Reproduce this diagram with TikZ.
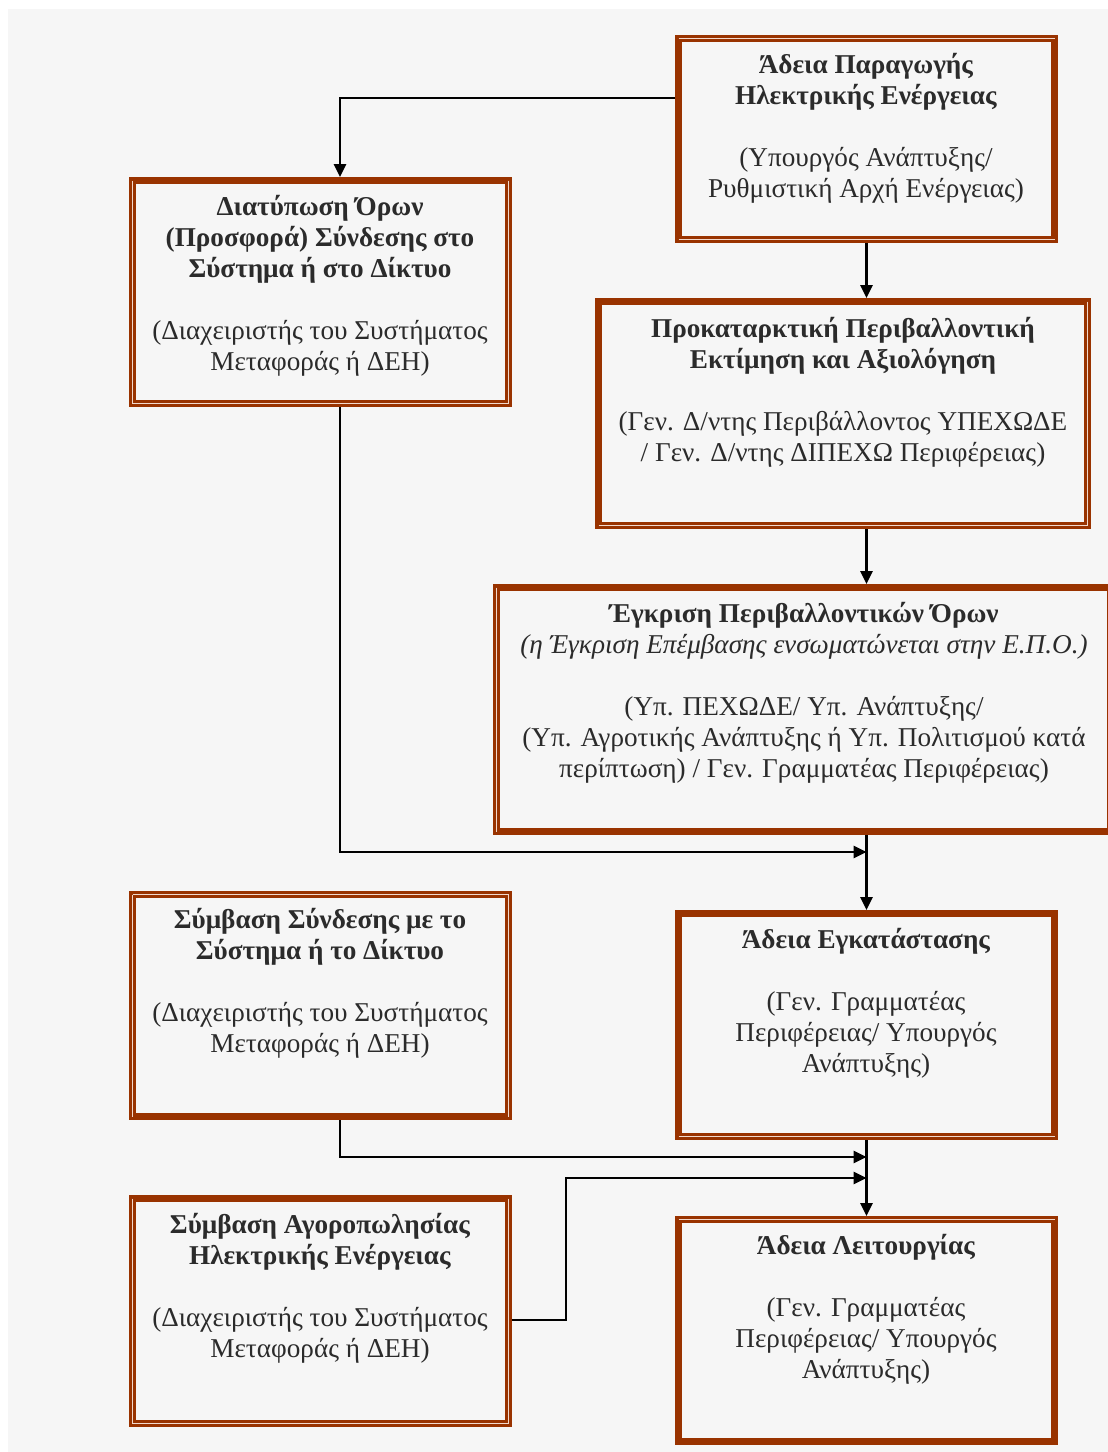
\documentclass[tikz,border=0pt]{standalone}
\usepackage{fontspec}
\setmainfont{Liberation Serif}
\usetikzlibrary{calc,arrows.meta}
\definecolor{frame}{HTML}{993300}
\definecolor{stripe}{HTML}{F2D9CC}
\definecolor{paper}{HTML}{F6F6F6}
\definecolor{ink}{HTML}{2B2B2B}
\tikzset{
  box/.style={rectangle,draw=none,inner sep=0pt,outer sep=0pt},
  txt/.style={anchor=north,align=center,inner sep=0pt,text=ink,
    font=\fontsize{13.6}{15.5}\selectfont},
  stripeline/.style={draw=stripe,line width=0.6pt},
  arr/.style={draw=black,line width=1.4pt,-{Triangle[length=6.5pt,width=6pt]}},
}
% frame of a box: #1 node; #2..#5 = top, right, bottom, left (1 = solid band, 0 = split band)
\newcommand\stepframe[5]{%
  \draw[frame,line width=3.5pt] ($(#1.north west)+(3.5,3.5)$) rectangle ($(#1.south east)+(-3.5,-3.5)$);
  \ifnum#2=0 \draw[stripeline] ($(#1.north west)+(3.5,3.5)$) -- ($(#1.north east)+(-3.5,3.5)$);\fi
  \ifnum#3=0 \draw[stripeline] ($(#1.north east)+(-3.5,3.5)$) -- ($(#1.south east)+(-3.5,-3.5)$);\fi
  \ifnum#4=0 \draw[stripeline] ($(#1.south west)+(3.5,-3.5)$) -- ($(#1.south east)+(-3.5,-3.5)$);\fi
  \ifnum#5=0 \draw[stripeline] ($(#1.north west)+(3.5,3.5)$) -- ($(#1.south west)+(3.5,-3.5)$);\fi
}
\begin{document}
\begin{tikzpicture}[x=0.5pt,y=-0.5pt]
\useasboundingbox (0,0) rectangle (1108,1452);
\fill[white] (0,0) rectangle (1108,1452);
\fill[paper] (8,9) rectangle (1108,1452);

% boxes
\node[box,minimum width=191.5pt,minimum height=104pt]   (B1) at (866.5,139) {};
\node[box,minimum width=191.5pt,minimum height=115pt]   (B2) at (320.5,292) {};
\node[box,minimum width=248pt,minimum height=115.5pt]   (B3) at (843,413.5) {};
\node[box,minimum width=310.5pt,minimum height=125.5pt] (B4) at (803.5,709.5) {};
\node[box,minimum width=191.5pt,minimum height=114.5pt] (B5) at (320.5,1005.5) {};
\node[box,minimum width=191.5pt,minimum height=115pt]   (B6) at (866.5,1025) {};
\node[box,minimum width=191.5pt,minimum height=116pt]   (B7) at (320.5,1311) {};
\node[box,minimum width=191.5pt,minimum height=114.5pt] (B8) at (866.5,1330.5) {};

\stepframe{B1}{0}{1}{0}{1}
\stepframe{B2}{1}{0}{0}{0}
\stepframe{B3}{1}{0}{0}{1}
\stepframe{B4}{1}{1}{1}{0}
\stepframe{B5}{0}{0}{1}{0}
\stepframe{B6}{1}{1}{0}{1}
\stepframe{B7}{1}{0}{0}{0}
\stepframe{B8}{0}{1}{1}{1}

% texts
\node[txt] (T1) at (866,51) {\strut\textbf{Άδεια Παραγωγής}\\\textbf{Ηλεκτρικής Ενέργειας}\\[15.5pt](Υπουργός Ανάπτυξης/\\Ρυθμιστική Αρχή Ενέργειας)};
\node[txt] (T2) at (320,193) {\strut\textbf{Διατύπωση Όρων}\\\textbf{(Προσφορά) Σύνδεσης στο}\\\textbf{Σύστημα ή στο Δίκτυο}\\[15.5pt](Διαχειριστής του Συστήματος\\Μεταφοράς ή ΔΕΗ)};
\node[txt] (T3) at (843,315) {\strut\textbf{Προκαταρκτική Περιβαλλοντική}\\\textbf{Εκτίμηση και Αξιολόγηση}\\[15.5pt](Γεν. Δ/ντης Περιβάλλοντος ΥΠΕΧΩΔΕ\\/ Γεν. Δ/ντης ΔΙΠΕΧΩ Περιφέρειας)};
\node[txt] (T4) at (804,600) {\strut\textbf{Έγκριση Περιβαλλοντικών Όρων}\\\textit{(η Έγκριση Επέμβασης ενσωματώνεται στην Ε.Π.Ο.)}\\[15.5pt](Υπ. ΠΕΧΩΔΕ/ Υπ. Ανάπτυξης/\\(Υπ. Αγροτικής Ανάπτυξης ή Υπ. Πολιτισμού κατά\\περίπτωση) / Γεν. Γραμματέας Περιφέρειας)};
\node[txt] (T5) at (320,906) {\strut\textbf{Σύμβαση Σύνδεσης με το}\\\textbf{Σύστημα ή το Δίκτυο}\\[15.5pt](Διαχειριστής του Συστήματος\\Μεταφοράς ή ΔΕΗ)};
\node[txt] (T6) at (866,926) {\strut\textbf{Άδεια Εγκατάστασης}\\[15.5pt](Γεν. Γραμματέας\\Περιφέρειας/ Υπουργός\\Ανάπτυξης)};
\node[txt] (T7) at (320,1211) {\strut\textbf{Σύμβαση Αγοροπωλησίας}\\\textbf{Ηλεκτρικής Ενέργειας}\\[15.5pt](Διαχειριστής του Συστήματος\\Μεταφοράς ή ΔΕΗ)};
\node[txt] (T8) at (866,1232) {\strut\textbf{Άδεια Λειτουργίας}\\[15.5pt](Γεν. Γραμματέας\\Περιφέρειας/ Υπουργός\\Ανάπτυξης)};

% junction points on the main vertical line
\coordinate (J1) at (866.5,852);
\coordinate (J2) at (866.5,1157);
\coordinate (J3) at (866.5,1178);

% connectors
\draw[arr] ($(B1.west)+(0,-41)$) -| ($(B2.north)+(19.5,0)$);
\draw[arr] (B1.south) -- (B1.south |- B3.north);
\draw[arr] (B1.south |- B3.south) -- (B1.south |- B4.north);
\draw[arr] ($(B2.south)+(19.5,0)$) |- (J1);
\draw[arr] (B1.south |- B4.south) -- (B6.north);
\draw[arr] ($(B5.south)+(19.5,0)$) |- (J2);
\draw[arr] ($(B7.east)+(0,9)$) -- ++(54,0) |- (J3);
\draw[arr] (B6.south) -- (B8.north);
\end{tikzpicture}
\end{document}
